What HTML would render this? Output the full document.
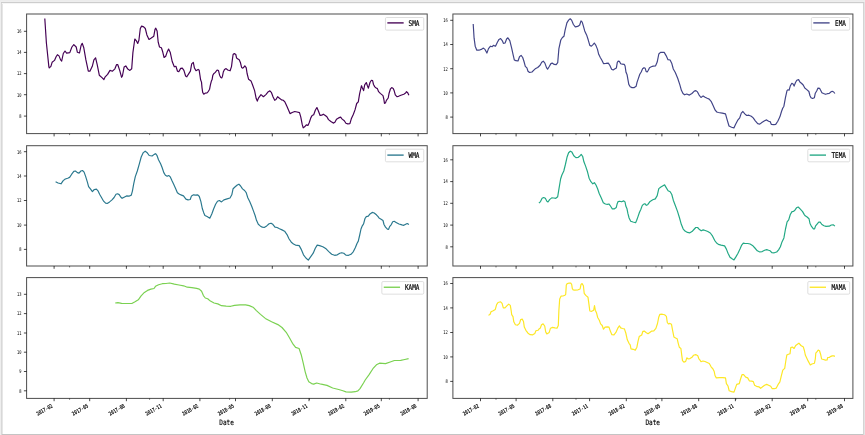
<!DOCTYPE html>
<html lang="en"><head><meta charset="utf-8"><title>Moving averages</title>
<style>
html,body{margin:0;padding:0;background:#fff;}
body{width:865px;height:435px;overflow:hidden;}
svg{display:block;}
text{font-family:"DejaVu Sans Mono","Liberation Mono",monospace;fill:#000;}
.tk{font-size:5.2px;}
.tkx{stroke:#000;stroke-width:0.2px;}
.lg{font-size:7.8px;stroke:#000;stroke-width:0.2px;}
.ax{font-size:7.6px;stroke:#000;stroke-width:0.15px;}
.fr{fill:none;stroke:#000;stroke-opacity:0.7;stroke-width:1;}
.t{stroke:#000;stroke-opacity:0.8;stroke-width:0.9;}
.ln{fill:none;stroke-width:1.18;stroke-linejoin:round;stroke-linecap:butt;}
</style></head><body>
<svg style="will-change:transform" width="865" height="435" viewBox="0 0 865 435">
<rect x="0" y="0" width="865" height="435" fill="#ffffff"/>
<rect x="2" y="3" width="1" height="431" fill="#e6e6e6"/>
<rect x="1" y="2" width="1" height="433" fill="#d8d8d8"/>
<rect x="863" y="2" width="1" height="433" fill="#d4d4d4"/>
<rect x="864" y="0" width="1" height="435" fill="#e4e4e4"/>
<rect x="0" y="0" width="1" height="435" fill="#eeeeee"/>
<rect x="2" y="3" width="861" height="1" fill="#f6f6f6"/>
<rect x="1" y="2" width="863" height="1" fill="#cdcdcd"/>
<rect x="0" y="1" width="865" height="1" fill="#eeeeee"/>
<rect x="0" y="0" width="865" height="1" fill="#ececec"/>
<rect x="2" y="434" width="861" height="1" fill="#c4c4c4"/>
<g>
<polyline class="ln" stroke="#440154" points="44.8,18.5 46.4,43.0 48.9,67.1 49.3,67.9 50.9,66.3 52.1,62.3 54.5,60.4 56.1,56.7 57.4,54.7 59.0,55.9 60.6,59.9 61.7,61.0 63.3,53.5 65.0,51.0 66.6,53.1 69.8,52.6 71.9,47.0 73.8,44.6 76.2,47.0 77.4,52.3 79.5,53.0 81.1,45.4 82.2,43.3 83.8,47.8 85.9,59.9 88.3,71.2 89.9,71.2 92.3,66.3 93.9,59.9 95.6,57.8 97.2,64.7 99.3,75.2 102.0,77.6 103.9,79.5 105.2,76.8 107.6,74.4 110.0,70.4 112.5,71.2 114.9,68.8 116.5,64.7 117.8,64.7 119.7,70.4 121.6,77.3 122.4,76.0 124.1,67.1 125.8,65.9 127.8,69.1 129.9,70.4 131.7,68.8 132.9,52.6 134.8,39.0 136.2,40.6 137.7,43.5 138.9,40.2 140.3,28.5 141.6,26.1 143.7,26.9 145.3,28.5 146.9,34.9 149.0,39.4 150.9,38.2 153.8,36.2 155.0,29.3 155.8,28.2 157.1,30.9 158.2,42.2 159.5,47.0 161.4,47.8 162.7,51.8 164.1,57.5 165.7,56.2 167.4,51.4 168.6,49.1 170.3,52.6 172.2,61.5 174.3,66.8 175.9,66.3 177.5,71.2 178.8,71.6 180.7,68.4 182.3,68.1 183.9,70.4 185.6,76.0 186.8,76.8 188.8,73.6 190.4,71.2 191.7,63.9 193.3,62.3 194.4,67.9 196.0,70.7 198.1,69.4 199.2,70.3 199.9,75.2 200.6,79.8 201.5,82.1 202.0,87.6 202.7,92.4 203.8,94.2 205.2,93.1 207.0,92.8 208.4,91.3 209.6,89.2 210.4,84.8 211.3,81.3 212.1,79.6 212.8,75.4 213.7,73.8 215.3,72.4 217.1,70.0 218.5,70.6 219.6,75.2 220.8,77.5 221.7,77.9 222.5,76.2 223.3,72.0 224.5,69.5 226.1,68.6 227.7,70.0 230.1,70.8 231.5,66.6 232.3,60.1 233.1,54.5 234.3,53.5 235.8,54.5 236.6,58.1 237.9,58.9 239.2,59.7 240.4,62.5 241.6,67.4 242.8,68.2 244.0,67.0 244.8,65.8 246.2,67.6 247.1,73.5 248.6,79.3 251.0,80.9 252.6,85.0 254.6,90.6 256.2,98.6 257.3,101.1 258.6,97.8 261.0,94.6 263.4,96.7 265.9,94.6 268.3,91.7 269.9,90.9 271.5,92.7 273.1,97.0 274.7,100.3 276.0,99.5 277.6,96.7 279.5,98.3 281.5,99.9 283.2,100.3 284.9,101.9 286.9,106.3 288.5,110.0 290.0,113.6 292.2,112.5 294.7,111.5 297.1,112.0 299.5,112.6 300.8,117.1 302.2,124.4 303.2,127.9 304.6,126.8 306.3,124.9 307.9,125.5 309.2,122.8 310.8,117.9 312.1,115.5 313.7,114.7 315.3,110.2 316.9,107.5 318.3,110.7 320.1,115.5 321.7,115.2 323.3,114.2 325.3,115.5 326.9,116.8 328.5,119.6 330.9,121.5 333.3,123.1 334.9,122.3 336.5,119.2 338.6,117.9 340.6,117.1 342.2,119.1 344.3,120.8 345.9,123.3 347.8,123.9 349.9,123.6 351.3,118.8 353.4,114.2 355.0,109.9 356.7,103.5 358.3,101.8 359.6,93.8 361.5,85.7 362.3,87.8 363.6,90.6 364.7,84.9 366.3,82.5 367.4,85.7 368.4,88.2 370.0,82.5 371.4,80.3 372.6,80.6 373.5,84.5 374.8,86.9 376.2,88.0 377.4,88.6 378.6,91.7 380.3,93.4 381.8,94.6 383.0,95.6 383.8,99.0 384.5,103.3 385.5,102.9 386.4,100.4 388.2,98.0 389.1,93.2 390.5,88.8 391.7,87.6 393.2,88.4 394.2,90.8 395.3,94.9 396.9,96.6 398.5,96.3 400.9,95.3 403.8,94.2 405.6,93.0 406.5,91.7 407.7,92.7 408.9,95.3"/>
<rect class="fr" x="26.6" y="14.0" width="400.6" height="119.6"/>
<line class="t" x1="23.9" x2="26.6" y1="31.3" y2="31.3"/>
<text class="tk" x="21.4" y="33.1" text-anchor="end" textLength="4.50" lengthAdjust="spacingAndGlyphs">16</text>
<line class="t" x1="23.9" x2="26.6" y1="52.4" y2="52.4"/>
<text class="tk" x="21.4" y="54.2" text-anchor="end" textLength="4.50" lengthAdjust="spacingAndGlyphs">14</text>
<line class="t" x1="23.9" x2="26.6" y1="73.6" y2="73.6"/>
<text class="tk" x="21.4" y="75.4" text-anchor="end" textLength="4.50" lengthAdjust="spacingAndGlyphs">12</text>
<line class="t" x1="23.9" x2="26.6" y1="94.7" y2="94.7"/>
<text class="tk" x="21.4" y="96.5" text-anchor="end" textLength="4.50" lengthAdjust="spacingAndGlyphs">10</text>
<line class="t" x1="23.9" x2="26.6" y1="116.1" y2="116.1"/>
<text class="tk" x="21.4" y="117.9" text-anchor="end" textLength="2.25" lengthAdjust="spacingAndGlyphs">8</text>
<line class="t" x1="54.1" x2="54.1" y1="133.6" y2="136.4"/>
<line class="t" x1="89.7" x2="89.7" y1="133.6" y2="136.4"/>
<line class="t" x1="126.4" x2="126.4" y1="133.6" y2="136.4"/>
<line class="t" x1="163.2" x2="163.2" y1="133.6" y2="136.4"/>
<line class="t" x1="199.9" x2="199.9" y1="133.6" y2="136.4"/>
<line class="t" x1="235.5" x2="235.5" y1="133.6" y2="136.4"/>
<line class="t" x1="272.3" x2="272.3" y1="133.6" y2="136.4"/>
<line class="t" x1="309.0" x2="309.0" y1="133.6" y2="136.4"/>
<line class="t" x1="345.8" x2="345.8" y1="133.6" y2="136.4"/>
<line class="t" x1="381.3" x2="381.3" y1="133.6" y2="136.4"/>
<line class="t" x1="418.1" x2="418.1" y1="133.6" y2="136.4"/>
<line class="t" x1="69.6" x2="69.6" y1="133.6" y2="135.1" style="stroke-width:0.6"/>
<line class="t" x1="149.6" x2="149.6" y1="133.6" y2="135.1" style="stroke-width:0.6"/>
<line class="t" x1="229.6" x2="229.6" y1="133.6" y2="135.1" style="stroke-width:0.6"/>
<line class="t" x1="309.5" x2="309.5" y1="133.6" y2="135.1" style="stroke-width:0.6"/>
<line class="t" x1="389.4" x2="389.4" y1="133.6" y2="135.1" style="stroke-width:0.6"/>
<rect x="385.45" y="17.50" width="38.30" height="12.60" rx="1.2" ry="1.2" fill="#ffffff" fill-opacity="0.8" stroke="#d6d6d6" stroke-width="0.8"/>
<line x1="387.35" x2="403.65" y1="22.90" y2="22.90" stroke="#440154" stroke-width="1.35"/>
<text class="lg" x="408.55" y="25.70" textLength="10.8" lengthAdjust="spacingAndGlyphs">SMA</text>
</g>
<g>
<polyline class="ln" stroke="#414487" points="473.2,24.0 474.1,38.2 475.2,46.2 476.8,50.2 478.9,50.2 481.3,49.4 483.4,48.1 485.0,49.4 486.9,53.1 488.5,48.6 490.5,46.2 492.2,46.7 493.4,45.4 495.5,46.2 497.4,42.2 499.0,39.4 500.6,38.5 502.2,40.6 503.4,43.3 505.1,43.0 506.6,39.0 507.9,37.8 509.8,40.6 511.6,47.8 513.2,55.1 514.3,59.9 515.9,60.7 518.0,61.0 519.5,56.7 521.1,55.4 522.7,57.5 524.0,61.5 525.3,66.3 526.9,67.9 528.0,71.2 529.6,72.5 532.0,72.0 533.6,70.4 535.2,68.8 537.7,67.5 540.1,65.2 541.7,62.3 543.3,61.2 544.9,63.1 546.5,67.6 547.6,69.2 549.4,66.3 550.9,63.6 552.2,63.1 554.2,64.4 556.2,64.7 557.7,62.7 558.9,48.6 560.8,40.0 562.4,37.5 564.0,36.2 565.1,30.1 566.9,22.9 568.6,20.1 570.2,18.8 571.6,20.1 573.4,24.5 575.3,26.9 577.7,26.4 579.7,25.0 581.0,20.8 582.2,22.1 583.4,26.1 584.7,30.9 586.6,34.9 588.2,39.8 589.8,45.4 591.4,46.2 593.0,44.6 594.3,43.0 595.9,45.4 597.5,49.4 598.7,54.3 600.3,57.5 601.9,60.2 603.5,63.6 605.9,63.4 608.3,63.1 609.9,65.5 611.6,69.2 613.2,70.0 615.0,68.8 616.4,67.9 617.3,62.4 618.2,61.2 619.4,61.4 620.7,63.7 622.4,64.2 624.2,64.3 625.1,66.0 626.0,72.3 627.1,74.8 627.9,79.4 628.8,84.4 630.2,86.7 632.0,87.6 634.3,87.6 636.1,86.3 637.1,82.1 638.4,78.4 639.8,74.3 641.2,72.0 642.6,68.8 644.0,67.7 645.2,68.3 646.1,71.4 647.2,72.0 648.3,70.2 649.5,67.7 651.3,66.8 653.2,66.1 655.6,65.8 657.2,62.1 658.8,54.0 660.5,52.4 664.2,52.4 666.1,55.6 668.0,59.7 670.1,60.0 671.7,63.2 673.3,69.0 675.3,72.5 677.7,78.2 679.8,84.6 681.4,90.3 683.0,93.5 684.6,94.8 686.7,94.0 689.4,95.1 691.9,93.5 694.3,91.1 695.9,90.6 697.5,91.9 699.1,95.1 701.0,97.5 703.1,95.9 705.1,97.2 707.2,98.3 709.2,99.1 711.1,101.3 713.2,105.8 715.2,110.2 716.8,112.0 718.4,112.5 722.3,113.1 725.5,113.9 727.1,119.6 729.0,126.0 731.6,127.3 733.9,127.9 735.5,124.4 737.6,120.4 739.7,117.9 741.3,113.1 742.9,111.5 744.8,113.9 746.7,115.5 748.8,115.2 751.3,116.3 753.2,117.9 755.3,120.8 757.7,123.6 759.8,124.1 762.2,122.3 764.6,120.7 766.6,119.9 768.6,121.2 770.1,121.6 771.4,124.4 773.8,124.7 775.7,124.4 777.8,121.2 779.9,116.8 781.5,111.5 782.7,108.3 783.9,106.2 785.4,97.8 787.0,90.6 788.0,89.8 789.1,90.2 790.4,85.7 791.8,83.3 793.1,84.1 794.1,86.1 795.5,82.5 796.8,80.3 798.6,79.6 799.9,82.0 801.7,83.5 803.2,85.0 804.8,88.0 806.8,89.6 808.9,91.5 809.9,95.5 811.0,97.7 812.6,98.5 814.4,97.7 815.3,93.2 816.8,90.8 818.0,88.1 819.7,88.4 820.9,90.8 821.9,92.7 823.5,93.5 825.5,94.3 827.4,93.7 829.3,93.4 830.8,92.0 832.2,91.3 833.7,92.0 834.9,93.5"/>
<rect class="fr" x="452.9" y="14.0" width="400.0" height="119.6"/>
<line class="t" x1="450.2" x2="452.9" y1="20.3" y2="20.3"/>
<text class="tk" x="447.8" y="22.1" text-anchor="end" textLength="4.50" lengthAdjust="spacingAndGlyphs">16</text>
<line class="t" x1="450.2" x2="452.9" y1="44.5" y2="44.5"/>
<text class="tk" x="447.8" y="46.3" text-anchor="end" textLength="4.50" lengthAdjust="spacingAndGlyphs">14</text>
<line class="t" x1="450.2" x2="452.9" y1="68.7" y2="68.7"/>
<text class="tk" x="447.8" y="70.5" text-anchor="end" textLength="4.50" lengthAdjust="spacingAndGlyphs">12</text>
<line class="t" x1="450.2" x2="452.9" y1="92.9" y2="92.9"/>
<text class="tk" x="447.8" y="94.7" text-anchor="end" textLength="4.50" lengthAdjust="spacingAndGlyphs">10</text>
<line class="t" x1="450.2" x2="452.9" y1="117.1" y2="117.1"/>
<text class="tk" x="447.8" y="118.9" text-anchor="end" textLength="2.25" lengthAdjust="spacingAndGlyphs">8</text>
<line class="t" x1="480.5" x2="480.5" y1="133.6" y2="136.4"/>
<line class="t" x1="516.1" x2="516.1" y1="133.6" y2="136.4"/>
<line class="t" x1="552.8" x2="552.8" y1="133.6" y2="136.4"/>
<line class="t" x1="589.6" x2="589.6" y1="133.6" y2="136.4"/>
<line class="t" x1="626.3" x2="626.3" y1="133.6" y2="136.4"/>
<line class="t" x1="661.9" x2="661.9" y1="133.6" y2="136.4"/>
<line class="t" x1="698.7" x2="698.7" y1="133.6" y2="136.4"/>
<line class="t" x1="735.4" x2="735.4" y1="133.6" y2="136.4"/>
<line class="t" x1="772.2" x2="772.2" y1="133.6" y2="136.4"/>
<line class="t" x1="807.7" x2="807.7" y1="133.6" y2="136.4"/>
<line class="t" x1="844.5" x2="844.5" y1="133.6" y2="136.4"/>
<line class="t" x1="496.0" x2="496.0" y1="133.6" y2="135.1" style="stroke-width:0.6"/>
<line class="t" x1="576.0" x2="576.0" y1="133.6" y2="135.1" style="stroke-width:0.6"/>
<line class="t" x1="656.0" x2="656.0" y1="133.6" y2="135.1" style="stroke-width:0.6"/>
<line class="t" x1="735.9" x2="735.9" y1="133.6" y2="135.1" style="stroke-width:0.6"/>
<line class="t" x1="815.8" x2="815.8" y1="133.6" y2="135.1" style="stroke-width:0.6"/>
<rect x="811.40" y="17.50" width="38.30" height="12.60" rx="1.2" ry="1.2" fill="#ffffff" fill-opacity="0.8" stroke="#d6d6d6" stroke-width="0.8"/>
<line x1="813.30" x2="829.60" y1="22.90" y2="22.90" stroke="#414487" stroke-width="1.35"/>
<text class="lg" x="835.10" y="25.70" textLength="10.8" lengthAdjust="spacingAndGlyphs">EMA</text>
</g>
<g>
<polyline class="ln" stroke="#2a788e" points="55.6,181.7 58.1,183.0 61.0,183.8 63.2,180.6 65.3,179.0 67.7,178.2 69.6,177.4 71.7,174.2 73.8,171.4 75.4,171.0 77.4,172.6 79.0,173.1 80.9,171.0 82.5,170.5 84.1,172.1 85.7,176.6 87.4,182.2 88.6,186.6 90.6,189.2 92.4,191.6 94.3,189.5 96.4,189.2 98.0,190.8 99.6,194.3 101.5,197.5 103.6,201.2 105.6,203.2 107.2,203.5 109.6,201.9 112.0,199.9 114.1,197.5 116.0,194.3 117.6,193.8 119.2,194.6 120.9,197.2 122.1,198.3 124.1,197.2 126.5,195.9 128.9,196.2 131.3,195.1 132.4,191.1 133.7,183.8 135.3,176.6 137.3,171.0 139.4,163.6 141.2,157.0 143.3,152.6 145.2,151.2 146.9,152.4 149.2,155.5 152.1,156.0 154.2,154.4 155.6,153.7 156.9,155.3 158.5,159.7 160.6,163.7 162.2,167.7 163.8,172.6 165.4,175.3 167.1,176.3 168.7,175.5 170.3,176.9 171.9,180.6 173.8,184.6 175.7,188.7 177.4,192.7 179.5,194.3 181.5,195.1 183.5,195.9 185.9,199.1 188.0,199.9 190.2,199.5 191.5,195.9 193.5,194.8 195.6,195.2 197.8,194.9 199.3,196.5 200.9,201.7 202.3,208.5 203.6,212.4 204.9,215.4 207.1,216.6 209.8,218.2 211.8,214.0 213.6,209.0 215.6,204.3 217.5,201.2 219.4,200.5 221.5,201.9 223.9,199.9 227.1,198.9 230.0,198.0 231.8,194.8 233.1,188.7 235.2,186.8 237.3,185.0 238.9,184.2 240.6,186.0 242.5,188.9 244.6,190.5 246.2,192.6 247.8,197.7 249.8,201.8 251.7,206.3 253.5,211.1 255.1,215.5 256.5,220.3 258.3,224.3 260.2,225.9 262.3,227.2 264.2,227.5 266.7,225.9 269.1,223.8 271.0,223.2 272.8,224.3 275.0,227.2 277.1,227.5 279.5,228.8 282.0,229.9 284.6,231.2 287.0,234.6 289.1,239.0 291.3,242.2 293.5,244.0 295.5,245.1 299.2,245.6 301.1,249.1 303.5,254.8 305.9,258.0 308.3,260.1 310.4,257.2 313.2,253.2 315.3,248.3 317.2,245.1 319.6,245.6 322.8,246.7 326.1,248.8 328.8,251.6 331.7,254.3 334.6,255.3 337.3,254.8 339.8,253.2 341.7,252.7 343.8,253.2 345.9,255.1 348.6,255.3 351.0,254.3 353.4,251.6 355.4,247.5 357.0,243.5 358.3,241.1 359.6,235.5 361.0,229.0 362.3,225.8 363.6,223.9 365.0,218.5 366.3,216.6 368.3,216.1 370.0,213.9 372.2,212.4 374.2,213.0 376.4,214.8 378.1,216.6 379.0,218.0 381.1,219.2 383.0,220.5 384.0,224.5 385.5,227.1 387.4,229.2 388.6,229.3 389.6,226.6 391.3,224.6 392.7,221.7 394.2,221.3 396.1,222.4 399.0,224.0 401.9,224.9 403.8,225.3 405.7,224.2 407.2,223.5 408.9,224.6"/>
<rect class="fr" x="26.6" y="145.7" width="400.6" height="120.3"/>
<line class="t" x1="23.9" x2="26.6" y1="151.7" y2="151.7"/>
<text class="tk" x="21.4" y="153.5" text-anchor="end" textLength="4.50" lengthAdjust="spacingAndGlyphs">16</text>
<line class="t" x1="23.9" x2="26.6" y1="176.0" y2="176.0"/>
<text class="tk" x="21.4" y="177.8" text-anchor="end" textLength="4.50" lengthAdjust="spacingAndGlyphs">14</text>
<line class="t" x1="23.9" x2="26.6" y1="200.5" y2="200.5"/>
<text class="tk" x="21.4" y="202.3" text-anchor="end" textLength="4.50" lengthAdjust="spacingAndGlyphs">12</text>
<line class="t" x1="23.9" x2="26.6" y1="225.1" y2="225.1"/>
<text class="tk" x="21.4" y="226.9" text-anchor="end" textLength="4.50" lengthAdjust="spacingAndGlyphs">10</text>
<line class="t" x1="23.9" x2="26.6" y1="249.4" y2="249.4"/>
<text class="tk" x="21.4" y="251.2" text-anchor="end" textLength="2.25" lengthAdjust="spacingAndGlyphs">8</text>
<line class="t" x1="54.1" x2="54.1" y1="266.0" y2="268.8"/>
<line class="t" x1="89.7" x2="89.7" y1="266.0" y2="268.8"/>
<line class="t" x1="126.4" x2="126.4" y1="266.0" y2="268.8"/>
<line class="t" x1="163.2" x2="163.2" y1="266.0" y2="268.8"/>
<line class="t" x1="199.9" x2="199.9" y1="266.0" y2="268.8"/>
<line class="t" x1="235.5" x2="235.5" y1="266.0" y2="268.8"/>
<line class="t" x1="272.3" x2="272.3" y1="266.0" y2="268.8"/>
<line class="t" x1="309.0" x2="309.0" y1="266.0" y2="268.8"/>
<line class="t" x1="345.8" x2="345.8" y1="266.0" y2="268.8"/>
<line class="t" x1="381.3" x2="381.3" y1="266.0" y2="268.8"/>
<line class="t" x1="418.1" x2="418.1" y1="266.0" y2="268.8"/>
<line class="t" x1="69.6" x2="69.6" y1="266.0" y2="267.5" style="stroke-width:0.6"/>
<line class="t" x1="149.6" x2="149.6" y1="266.0" y2="267.5" style="stroke-width:0.6"/>
<line class="t" x1="229.6" x2="229.6" y1="266.0" y2="267.5" style="stroke-width:0.6"/>
<line class="t" x1="309.5" x2="309.5" y1="266.0" y2="267.5" style="stroke-width:0.6"/>
<line class="t" x1="389.4" x2="389.4" y1="266.0" y2="267.5" style="stroke-width:0.6"/>
<rect x="385.45" y="149.20" width="38.30" height="12.60" rx="1.2" ry="1.2" fill="#ffffff" fill-opacity="0.8" stroke="#d6d6d6" stroke-width="0.8"/>
<line x1="387.35" x2="403.65" y1="155.10" y2="155.10" stroke="#2a788e" stroke-width="1.35"/>
<text class="lg" x="408.55" y="158.30" textLength="10.8" lengthAdjust="spacingAndGlyphs">WMA</text>
</g>
<g>
<polyline class="ln" stroke="#22a884" points="538.9,203.2 540.5,201.6 542.1,198.3 543.7,197.5 545.3,198.3 546.9,201.2 548.0,202.0 549.6,199.6 551.7,197.9 553.8,198.0 555.8,198.3 557.7,196.7 559.0,188.7 560.6,179.0 561.9,175.0 563.8,171.0 565.4,164.5 567.0,157.3 568.6,152.8 570.3,151.2 571.9,152.1 573.8,155.7 575.9,157.6 578.3,157.3 579.9,156.0 581.2,154.4 582.7,156.5 583.9,161.8 585.6,166.1 587.5,171.8 589.1,178.2 590.9,181.7 592.8,183.8 594.4,182.7 596.0,185.0 597.6,188.7 599.2,193.5 601.3,198.0 603.3,202.7 605.4,204.0 607.3,204.3 608.9,204.0 610.0,205.3 611.1,207.0 612.3,208.8 614.1,208.9 616.3,207.4 617.2,203.7 618.1,201.6 619.7,201.2 621.5,201.8 623.8,200.9 625.0,201.9 625.8,206.0 627.0,208.8 627.9,213.4 629.1,218.0 630.7,221.2 633.0,222.0 635.6,222.7 636.7,220.3 638.0,216.6 639.4,212.5 640.8,209.5 642.2,205.6 643.6,204.2 644.9,203.7 646.3,205.3 647.7,204.7 650.1,201.4 652.8,199.8 655.3,198.9 657.2,195.6 658.8,188.6 660.9,187.0 663.0,185.7 664.6,184.9 666.2,187.6 668.1,190.8 670.2,191.8 671.8,194.5 673.3,200.2 675.4,205.8 677.5,211.4 679.4,217.5 681.3,224.3 683.1,228.8 685.0,231.1 687.5,232.4 689.9,232.8 692.0,231.6 693.9,229.5 695.8,227.5 697.6,227.5 699.5,229.6 701.2,230.8 703.2,229.9 705.2,230.5 707.8,231.5 710.3,233.0 712.6,236.2 714.6,240.3 716.6,243.0 718.4,244.4 721.1,245.1 724.6,245.9 726.4,249.1 728.0,253.2 730.0,257.2 732.1,258.8 734.0,259.9 735.9,256.9 738.0,253.2 740.1,248.8 741.7,245.1 743.3,243.2 745.3,243.5 747.7,243.5 750.1,244.0 752.5,245.4 754.9,248.0 757.3,250.8 759.8,252.0 762.2,251.6 764.6,250.3 766.7,249.6 768.6,250.3 770.2,250.8 771.8,252.7 774.2,252.8 776.7,252.0 778.6,249.9 780.4,246.7 782.0,241.9 783.9,237.9 785.5,229.0 787.1,221.8 788.7,219.8 790.3,214.5 792.0,211.6 793.6,211.3 794.9,210.2 796.5,207.8 798.2,207.0 800.1,208.9 802.6,211.6 804.3,214.6 805.2,215.8 807.1,217.0 809.0,218.7 810.0,223.5 811.5,226.4 813.4,228.8 814.6,228.8 815.6,225.9 817.3,223.8 818.7,222.1 820.2,222.2 821.9,224.5 824.0,225.7 826.0,226.4 829.3,226.2 831.3,225.0 833.2,224.8 834.9,226.1"/>
<rect class="fr" x="452.9" y="145.7" width="400.0" height="120.3"/>
<line class="t" x1="450.2" x2="452.9" y1="159.8" y2="159.8"/>
<text class="tk" x="447.8" y="161.6" text-anchor="end" textLength="4.50" lengthAdjust="spacingAndGlyphs">16</text>
<line class="t" x1="450.2" x2="452.9" y1="181.6" y2="181.6"/>
<text class="tk" x="447.8" y="183.4" text-anchor="end" textLength="4.50" lengthAdjust="spacingAndGlyphs">14</text>
<line class="t" x1="450.2" x2="452.9" y1="203.3" y2="203.3"/>
<text class="tk" x="447.8" y="205.1" text-anchor="end" textLength="4.50" lengthAdjust="spacingAndGlyphs">12</text>
<line class="t" x1="450.2" x2="452.9" y1="225.1" y2="225.1"/>
<text class="tk" x="447.8" y="226.9" text-anchor="end" textLength="4.50" lengthAdjust="spacingAndGlyphs">10</text>
<line class="t" x1="450.2" x2="452.9" y1="246.8" y2="246.8"/>
<text class="tk" x="447.8" y="248.6" text-anchor="end" textLength="2.25" lengthAdjust="spacingAndGlyphs">8</text>
<line class="t" x1="480.5" x2="480.5" y1="266.0" y2="268.8"/>
<line class="t" x1="516.1" x2="516.1" y1="266.0" y2="268.8"/>
<line class="t" x1="552.8" x2="552.8" y1="266.0" y2="268.8"/>
<line class="t" x1="589.6" x2="589.6" y1="266.0" y2="268.8"/>
<line class="t" x1="626.3" x2="626.3" y1="266.0" y2="268.8"/>
<line class="t" x1="661.9" x2="661.9" y1="266.0" y2="268.8"/>
<line class="t" x1="698.7" x2="698.7" y1="266.0" y2="268.8"/>
<line class="t" x1="735.4" x2="735.4" y1="266.0" y2="268.8"/>
<line class="t" x1="772.2" x2="772.2" y1="266.0" y2="268.8"/>
<line class="t" x1="807.7" x2="807.7" y1="266.0" y2="268.8"/>
<line class="t" x1="844.5" x2="844.5" y1="266.0" y2="268.8"/>
<line class="t" x1="496.0" x2="496.0" y1="266.0" y2="267.5" style="stroke-width:0.6"/>
<line class="t" x1="576.0" x2="576.0" y1="266.0" y2="267.5" style="stroke-width:0.6"/>
<line class="t" x1="656.0" x2="656.0" y1="266.0" y2="267.5" style="stroke-width:0.6"/>
<line class="t" x1="735.9" x2="735.9" y1="266.0" y2="267.5" style="stroke-width:0.6"/>
<line class="t" x1="815.8" x2="815.8" y1="266.0" y2="267.5" style="stroke-width:0.6"/>
<rect x="807.80" y="149.20" width="41.90" height="12.60" rx="1.2" ry="1.2" fill="#ffffff" fill-opacity="0.8" stroke="#d6d6d6" stroke-width="0.8"/>
<line x1="809.70" x2="826.00" y1="155.10" y2="155.10" stroke="#22a884" stroke-width="1.35"/>
<text class="lg" x="831.50" y="158.30" textLength="14.4" lengthAdjust="spacingAndGlyphs">TEMA</text>
</g>
<g>
<polyline class="ln" stroke="#7ad151" points="115.2,303.0 117.9,302.6 121.6,303.3 127.2,303.5 131.8,303.5 134.6,302.0 138.3,299.8 141.1,295.9 144.4,292.4 147.5,290.4 150.9,289.1 154.0,288.5 155.5,286.3 158.6,284.7 162.3,283.7 166.0,283.5 169.7,283.0 174.4,284.1 179.0,285.0 183.6,285.8 187.3,287.2 191.9,287.6 196.6,288.4 199.3,289.1 201.6,291.3 203.4,295.6 205.3,298.0 207.7,298.7 210.4,301.1 214.1,303.0 217.8,303.9 221.5,305.7 226.2,306.1 230.8,306.3 234.5,305.4 240.0,304.8 245.6,304.8 249.3,305.6 253.0,307.2 256.4,310.6 260.5,314.4 265.3,318.4 271.6,321.8 277.9,324.6 282.0,327.5 286.2,332.3 289.3,337.5 292.5,343.3 295.6,347.4 299.1,348.5 301.2,354.7 303.3,363.4 305.2,371.8 307.0,378.0 308.8,381.8 311.6,383.6 313.7,384.1 316.7,383.0 321.2,384.2 327.0,385.4 332.7,388.0 338.7,389.5 342.9,390.7 346.0,391.9 351.2,392.2 355.3,391.7 357.9,390.9 360.0,388.6 363.5,383.0 365.2,380.0 369.1,374.6 372.9,368.7 376.4,364.8 379.5,363.2 385.5,363.6 390.2,362.0 394.4,360.5 400.7,360.3 404.8,359.5 408.6,358.7"/>
<rect class="fr" x="26.6" y="277.6" width="400.6" height="120.8"/>
<line class="t" x1="23.9" x2="26.6" y1="294.3" y2="294.3"/>
<text class="tk" x="21.4" y="296.1" text-anchor="end" textLength="4.50" lengthAdjust="spacingAndGlyphs">13</text>
<line class="t" x1="23.9" x2="26.6" y1="313.6" y2="313.6"/>
<text class="tk" x="21.4" y="315.4" text-anchor="end" textLength="4.50" lengthAdjust="spacingAndGlyphs">12</text>
<line class="t" x1="23.9" x2="26.6" y1="333.0" y2="333.0"/>
<text class="tk" x="21.4" y="334.8" text-anchor="end" textLength="4.50" lengthAdjust="spacingAndGlyphs">11</text>
<line class="t" x1="23.9" x2="26.6" y1="352.2" y2="352.2"/>
<text class="tk" x="21.4" y="354.0" text-anchor="end" textLength="4.50" lengthAdjust="spacingAndGlyphs">10</text>
<line class="t" x1="23.9" x2="26.6" y1="371.5" y2="371.5"/>
<text class="tk" x="21.4" y="373.3" text-anchor="end" textLength="2.25" lengthAdjust="spacingAndGlyphs">9</text>
<line class="t" x1="23.9" x2="26.6" y1="390.8" y2="390.8"/>
<text class="tk" x="21.4" y="392.6" text-anchor="end" textLength="2.25" lengthAdjust="spacingAndGlyphs">8</text>
<line class="t" x1="54.1" x2="54.1" y1="398.4" y2="401.2"/>
<text class="tk tkx" transform="translate(53.0,407.0) rotate(-30)" text-anchor="end" textLength="17.6" lengthAdjust="spacingAndGlyphs">2017-02</text>
<line class="t" x1="89.7" x2="89.7" y1="398.4" y2="401.2"/>
<text class="tk tkx" transform="translate(88.6,407.0) rotate(-30)" text-anchor="end" textLength="17.6" lengthAdjust="spacingAndGlyphs">2017-05</text>
<line class="t" x1="126.4" x2="126.4" y1="398.4" y2="401.2"/>
<text class="tk tkx" transform="translate(125.3,407.0) rotate(-30)" text-anchor="end" textLength="17.6" lengthAdjust="spacingAndGlyphs">2017-08</text>
<line class="t" x1="163.2" x2="163.2" y1="398.4" y2="401.2"/>
<text class="tk tkx" transform="translate(162.1,407.0) rotate(-30)" text-anchor="end" textLength="17.6" lengthAdjust="spacingAndGlyphs">2017-11</text>
<line class="t" x1="199.9" x2="199.9" y1="398.4" y2="401.2"/>
<text class="tk tkx" transform="translate(198.8,407.0) rotate(-30)" text-anchor="end" textLength="17.6" lengthAdjust="spacingAndGlyphs">2018-02</text>
<line class="t" x1="235.5" x2="235.5" y1="398.4" y2="401.2"/>
<text class="tk tkx" transform="translate(234.4,407.0) rotate(-30)" text-anchor="end" textLength="17.6" lengthAdjust="spacingAndGlyphs">2018-05</text>
<line class="t" x1="272.3" x2="272.3" y1="398.4" y2="401.2"/>
<text class="tk tkx" transform="translate(271.2,407.0) rotate(-30)" text-anchor="end" textLength="17.6" lengthAdjust="spacingAndGlyphs">2018-08</text>
<line class="t" x1="309.0" x2="309.0" y1="398.4" y2="401.2"/>
<text class="tk tkx" transform="translate(307.9,407.0) rotate(-30)" text-anchor="end" textLength="17.6" lengthAdjust="spacingAndGlyphs">2018-11</text>
<line class="t" x1="345.8" x2="345.8" y1="398.4" y2="401.2"/>
<text class="tk tkx" transform="translate(344.7,407.0) rotate(-30)" text-anchor="end" textLength="17.6" lengthAdjust="spacingAndGlyphs">2019-02</text>
<line class="t" x1="381.3" x2="381.3" y1="398.4" y2="401.2"/>
<text class="tk tkx" transform="translate(380.2,407.0) rotate(-30)" text-anchor="end" textLength="17.6" lengthAdjust="spacingAndGlyphs">2019-05</text>
<line class="t" x1="418.1" x2="418.1" y1="398.4" y2="401.2"/>
<text class="tk tkx" transform="translate(417.0,407.0) rotate(-30)" text-anchor="end" textLength="17.6" lengthAdjust="spacingAndGlyphs">2019-08</text>
<line class="t" x1="69.6" x2="69.6" y1="398.4" y2="399.9" style="stroke-width:0.6"/>
<line class="t" x1="149.6" x2="149.6" y1="398.4" y2="399.9" style="stroke-width:0.6"/>
<line class="t" x1="229.6" x2="229.6" y1="398.4" y2="399.9" style="stroke-width:0.6"/>
<line class="t" x1="309.5" x2="309.5" y1="398.4" y2="399.9" style="stroke-width:0.6"/>
<line class="t" x1="389.4" x2="389.4" y1="398.4" y2="399.9" style="stroke-width:0.6"/>
<rect x="381.85" y="281.55" width="41.90" height="12.60" rx="1.2" ry="1.2" fill="#ffffff" fill-opacity="0.8" stroke="#d6d6d6" stroke-width="0.8"/>
<line x1="383.75" x2="400.05" y1="287.25" y2="287.25" stroke="#7ad151" stroke-width="1.35"/>
<text class="lg" x="404.95" y="290.20" textLength="14.4" lengthAdjust="spacingAndGlyphs">KAMA</text>
<text class="ax" x="226.6" y="424.6" text-anchor="middle" textLength="14.6" lengthAdjust="spacingAndGlyphs">Date</text>
</g>
<g>
<polyline class="ln" stroke="#fde725" points="488.5,315.4 490.1,314.2 491.0,311.8 493.2,310.7 495.3,309.4 496.6,304.6 498.0,302.5 500.6,301.8 502.1,303.4 503.3,307.8 505.0,307.8 507.1,305.7 508.7,304.1 510.3,305.4 511.1,310.2 511.7,314.7 513.0,316.6 513.8,321.8 515.4,324.7 517.4,325.2 519.5,323.4 520.7,319.5 522.2,319.1 523.5,321.5 524.3,327.1 525.9,330.3 528.0,333.2 530.2,334.7 532.8,334.8 534.8,333.6 535.9,330.8 538.0,330.3 539.3,328.7 540.4,327.9 541.5,324.7 543.1,323.9 544.7,326.0 545.7,331.9 546.8,333.9 549.2,332.4 550.5,328.2 552.5,327.4 554.9,327.9 557.0,328.2 558.3,325.5 558.9,310.2 559.7,298.9 561.0,296.2 562.9,296.0 565.0,295.2 565.7,294.3 566.0,290.0 566.3,285.0 567.2,283.6 568.6,283.2 570.8,283.2 571.7,284.5 572.3,288.5 573.2,289.8 574.7,290.1 578.1,289.8 580.1,289.0 581.0,284.4 582.1,283.6 583.4,285.7 584.2,293.3 585.8,295.4 588.0,297.3 589.0,304.6 589.8,311.0 591.7,311.3 593.7,310.2 594.5,305.7 595.3,310.2 596.6,313.1 597.7,317.5 599.3,320.2 600.6,323.9 602.2,325.5 603.5,329.2 605.1,327.1 607.4,326.8 609.0,327.1 610.3,331.1 611.9,334.7 614.0,334.8 615.9,332.4 617.8,328.2 619.4,325.8 620.7,327.9 622.5,328.5 624.4,328.9 625.8,333.0 627.3,339.8 629.0,343.3 630.2,344.8 631.0,348.8 633.2,349.3 635.3,350.1 636.9,347.2 638.0,341.4 639.2,336.6 641.7,335.0 642.9,331.3 644.5,331.1 646.0,332.5 648.0,333.7 650.1,332.2 651.7,331.1 653.8,330.8 655.9,328.4 657.5,323.5 658.7,317.3 659.9,314.3 662.2,314.2 664.6,314.8 666.4,316.4 667.3,322.5 668.4,324.0 669.9,323.4 671.5,324.3 672.7,330.8 673.9,336.9 675.6,338.0 677.2,338.8 678.3,343.6 679.3,347.2 680.9,348.5 681.7,354.9 682.5,360.6 683.9,362.2 685.7,361.4 686.8,357.8 688.0,358.9 690.0,358.6 692.0,357.3 693.6,355.2 695.7,354.6 697.8,355.7 698.9,358.9 700.0,360.1 701.0,361.7 702.9,361.0 705.0,361.5 707.2,362.5 709.3,363.5 711.1,366.8 713.0,369.0 714.2,371.5 715.0,375.5 716.3,377.9 719.5,377.6 722.7,377.6 725.5,377.9 726.4,383.6 728.0,386.0 729.2,390.8 731.6,391.6 734.0,392.1 735.3,388.4 736.7,384.4 739.3,383.6 740.4,379.5 742.0,374.7 743.6,374.7 745.7,377.1 747.7,377.9 749.3,380.8 751.7,381.1 753.3,381.6 754.6,385.2 756.5,386.3 758.9,386.8 760.6,388.4 762.6,386.8 764.6,385.2 766.7,384.4 768.6,385.2 770.7,386.3 772.2,388.7 774.2,388.7 776.3,388.1 778.0,384.7 779.9,381.9 781.2,376.3 782.8,370.2 784.7,368.3 785.8,361.0 786.8,355.1 788.4,354.2 790.0,353.8 790.8,347.6 792.3,347.0 794.1,348.5 795.7,345.4 797.4,344.2 798.9,343.2 800.9,345.5 803.4,347.1 804.5,351.0 805.3,355.0 808.1,360.9 810.3,365.0 811.9,364.0 814.4,363.3 815.3,359.0 815.8,353.2 817.1,351.7 818.2,350.1 819.5,350.8 820.6,354.2 821.6,359.0 823.5,359.5 825.5,360.1 827.1,360.0 827.7,357.5 829.3,357.5 830.3,356.6 832.2,355.9 833.7,355.9 834.9,356.4"/>
<rect class="fr" x="452.9" y="277.6" width="400.0" height="120.8"/>
<line class="t" x1="450.2" x2="452.9" y1="283.5" y2="283.5"/>
<text class="tk" x="447.8" y="285.3" text-anchor="end" textLength="4.50" lengthAdjust="spacingAndGlyphs">16</text>
<line class="t" x1="450.2" x2="452.9" y1="307.9" y2="307.9"/>
<text class="tk" x="447.8" y="309.7" text-anchor="end" textLength="4.50" lengthAdjust="spacingAndGlyphs">14</text>
<line class="t" x1="450.2" x2="452.9" y1="332.5" y2="332.5"/>
<text class="tk" x="447.8" y="334.3" text-anchor="end" textLength="4.50" lengthAdjust="spacingAndGlyphs">12</text>
<line class="t" x1="450.2" x2="452.9" y1="356.9" y2="356.9"/>
<text class="tk" x="447.8" y="358.7" text-anchor="end" textLength="4.50" lengthAdjust="spacingAndGlyphs">10</text>
<line class="t" x1="450.2" x2="452.9" y1="381.4" y2="381.4"/>
<text class="tk" x="447.8" y="383.2" text-anchor="end" textLength="2.25" lengthAdjust="spacingAndGlyphs">8</text>
<line class="t" x1="480.5" x2="480.5" y1="398.4" y2="401.2"/>
<text class="tk tkx" transform="translate(479.4,407.0) rotate(-30)" text-anchor="end" textLength="17.6" lengthAdjust="spacingAndGlyphs">2017-02</text>
<line class="t" x1="516.1" x2="516.1" y1="398.4" y2="401.2"/>
<text class="tk tkx" transform="translate(515.0,407.0) rotate(-30)" text-anchor="end" textLength="17.6" lengthAdjust="spacingAndGlyphs">2017-05</text>
<line class="t" x1="552.8" x2="552.8" y1="398.4" y2="401.2"/>
<text class="tk tkx" transform="translate(551.7,407.0) rotate(-30)" text-anchor="end" textLength="17.6" lengthAdjust="spacingAndGlyphs">2017-08</text>
<line class="t" x1="589.6" x2="589.6" y1="398.4" y2="401.2"/>
<text class="tk tkx" transform="translate(588.5,407.0) rotate(-30)" text-anchor="end" textLength="17.6" lengthAdjust="spacingAndGlyphs">2017-11</text>
<line class="t" x1="626.3" x2="626.3" y1="398.4" y2="401.2"/>
<text class="tk tkx" transform="translate(625.2,407.0) rotate(-30)" text-anchor="end" textLength="17.6" lengthAdjust="spacingAndGlyphs">2018-02</text>
<line class="t" x1="661.9" x2="661.9" y1="398.4" y2="401.2"/>
<text class="tk tkx" transform="translate(660.8,407.0) rotate(-30)" text-anchor="end" textLength="17.6" lengthAdjust="spacingAndGlyphs">2018-05</text>
<line class="t" x1="698.7" x2="698.7" y1="398.4" y2="401.2"/>
<text class="tk tkx" transform="translate(697.6,407.0) rotate(-30)" text-anchor="end" textLength="17.6" lengthAdjust="spacingAndGlyphs">2018-08</text>
<line class="t" x1="735.4" x2="735.4" y1="398.4" y2="401.2"/>
<text class="tk tkx" transform="translate(734.3,407.0) rotate(-30)" text-anchor="end" textLength="17.6" lengthAdjust="spacingAndGlyphs">2018-11</text>
<line class="t" x1="772.2" x2="772.2" y1="398.4" y2="401.2"/>
<text class="tk tkx" transform="translate(771.1,407.0) rotate(-30)" text-anchor="end" textLength="17.6" lengthAdjust="spacingAndGlyphs">2019-02</text>
<line class="t" x1="807.7" x2="807.7" y1="398.4" y2="401.2"/>
<text class="tk tkx" transform="translate(806.6,407.0) rotate(-30)" text-anchor="end" textLength="17.6" lengthAdjust="spacingAndGlyphs">2019-05</text>
<line class="t" x1="844.5" x2="844.5" y1="398.4" y2="401.2"/>
<text class="tk tkx" transform="translate(843.4,407.0) rotate(-30)" text-anchor="end" textLength="17.6" lengthAdjust="spacingAndGlyphs">2019-08</text>
<line class="t" x1="496.0" x2="496.0" y1="398.4" y2="399.9" style="stroke-width:0.6"/>
<line class="t" x1="576.0" x2="576.0" y1="398.4" y2="399.9" style="stroke-width:0.6"/>
<line class="t" x1="656.0" x2="656.0" y1="398.4" y2="399.9" style="stroke-width:0.6"/>
<line class="t" x1="735.9" x2="735.9" y1="398.4" y2="399.9" style="stroke-width:0.6"/>
<line class="t" x1="815.8" x2="815.8" y1="398.4" y2="399.9" style="stroke-width:0.6"/>
<rect x="807.80" y="281.55" width="41.90" height="12.60" rx="1.2" ry="1.2" fill="#ffffff" fill-opacity="0.8" stroke="#d6d6d6" stroke-width="0.8"/>
<line x1="809.70" x2="826.00" y1="287.25" y2="287.25" stroke="#fde725" stroke-width="1.35"/>
<text class="lg" x="831.50" y="290.20" textLength="14.4" lengthAdjust="spacingAndGlyphs">MAMA</text>
<text class="ax" x="652.7" y="424.6" text-anchor="middle" textLength="14.6" lengthAdjust="spacingAndGlyphs">Date</text>
</g>
</svg></body></html>
